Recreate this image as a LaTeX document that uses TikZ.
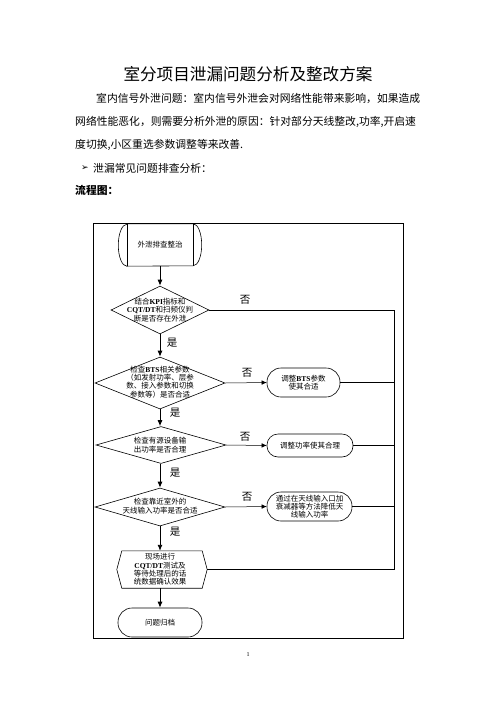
\documentclass[tikz,border=0pt]{standalone}
\usepackage{fontspec}
\setmainfont{Liberation Serif}
\newfontfamily\cjk{Noto Sans CJK SC}
\newfontfamily\dejavu{DejaVu Sans}
\usetikzlibrary{shapes.geometric,arrows.meta}
\newcommand\lb[1]{{\rmfamily\bfseries #1}}
\begin{document}
\begin{tikzpicture}[x=1pt,y=-1pt,
  every node/.style={inner sep=0pt, font=\cjk\fontsize{7.5}{8.3}\selectfont},
  para/.style={anchor=west, font=\cjk\fontsize{10.8}{12}\selectfont},
  flow/.style={-{Latex[length=6pt,width=5pt]}, line width=0.9pt},
  side/.style={-{Latex[length=5pt,width=4.5pt]}, line width=0.5pt},
  back/.style={line width=0.6pt},
  dia/.style n args={2}{diamond, draw, line width=0.6pt, minimum width=#1, minimum height=#2},
  stad/.style n args={3}{draw, line width=0.6pt, rounded corners=#3, minimum width=#1, minimum height=#2, align=center},
  yn/.style={font=\cjk\fontsize{10.5}{11}\selectfont}
]
\useasboundingbox (0,0) rectangle (496,702);

% header text
\node[font=\cjk\fontsize{16.6}{18}\selectfont] (title) at (248,74) {室分项目泄漏问题分析及整改方案};
\node[para] (p1) at (96,98) {室内信号外泄问题：室内信号外泄会对网络性能带来影响，如果造成};
\node[para] (p2) at (75,122) {网络性能恶化，则需要分析外泄的原因：针对部分天线整改,功率,开启速};
\node[para] (p3) at (75,145) {度切换,小区重选参数调整等来改善.};
\node[anchor=west, font=\dejavu\fontsize{9}{10}\selectfont] (bul) at (81,168) {➢};
\node[para] (p4) at (93,168) {泄漏常见问题排查分析：};
\node[para, font=\cjk\bfseries\fontsize{10.8}{12}\selectfont] (p5) at (75,190) {流程图：};

% frame
\draw[line width=0.9pt] (93,223) rectangle (403,638);

% start
\node[minimum width=66pt, minimum height=42pt] (start) at (160,245) {外泄排查整治};
\draw[line width=0.6pt] (start.north west) -- (start.north east)
  arc[start angle=90, end angle=-90, x radius=8.5pt, y radius=21pt]
  -- (start.south west)
  arc[start angle=270, end angle=90, x radius=8.5pt, y radius=21pt] -- cycle;
\draw[line width=0.6pt] (start.north west) -- (start.south west);
\draw[line width=0.6pt] (start.north east) -- (start.south east);

% diamonds
\node[dia={98pt}{48pt}] (d1) at (160,310) {};
\node[align=center] (d1t) at (160,310) {结合\lb{KPI}指标和\\\lb{CQT/DT}和扫频仪判\\断是否存在外泄};
\node[dia={130pt}{52pt}] (d2) at (160,383) {};
\node[align=center] (d2t) at (160,382) {检查\lb{BTS}相关参数\\（如发射功率、层参\\数、接入参数和切换\\参数等）是否合适};
\node[dia={130pt}{37pt}] (d3) at (161,445) {};
\node[align=center] (d3t) at (160,445) {检查有源设备输\\出功率是否合理};
\node[dia={130pt}{38pt}] (d4) at (160,507) {};
\node[align=center] (d4t) at (160,506) {检查靠近室外的\\天线输入功率是否合适};

% right boxes
\node[stad={73pt}{29pt}{14pt}] (b2) at (303.5,382.5) {调整\lb{BTS}参数\\使其合适};
\node[stad={86pt}{23pt}{11pt}] (b3) at (310,445.5) {调整功率使其合理};
\node[stad={85pt}{29pt}{14pt}] (b4) at (309.5,506.5) {通过在天线输入口加\\衰减器等方法降低天\\线输入功率};

% hexagon
\node[minimum width=90pt, minimum height=37pt] (hex) at (162,569.5) {};
\draw[line width=0.6pt] (hex.west) -- ([xshift=5pt]hex.north west) -- ([xshift=-5pt]hex.north east)
  -- (hex.east) -- ([xshift=-5pt]hex.south east) -- ([xshift=5pt]hex.south west) -- cycle;
\node[align=center] (hext) at (160,569.5) {现场进行\\\lb{CQT/DT}测试及\\等待处理后的话\\统数据确认效果};

% end
\node[stad={84pt}{29pt}{14pt}] (end) at (160,622.5) {问题归档};

% flow arrows
\draw[flow] (start.south) -- (d1.north);
\draw[flow] (d1.south) -- (d2.north);
\draw[flow] (d2.south) -- (d2.south |- d3.north);
\draw[flow] (d2.south |- d3.south) -- (d4.north);
\draw[flow] (d4.south) -- (d4.south |- hex.north);
\draw[flow] (end.north |- hex.south) -- (end.north);

% side arrows
\draw[side] (d2.east) -- (b2.west);
\draw[side] (d3.east) -- (b3.west);
\draw[side] (d4.east) -- (b4.west);

% feedback lines
\coordinate (rt) at (394,310);
\coordinate (rb) at (394,569.5);
\draw[back] (d1.east) -- (rt) -- (rb) -- (hex.east);
\draw[back] (b2.east) -- (b2.east -| rt);
\draw[back] (b3.east) -- (b3.east -| rt);
\draw[back] (b4.east) -- (b4.east -| rt);

% labels
\node[yn] (n1) at (245,300) {否};
\node[yn] (n2) at (247,373) {否};
\node[yn] (n3) at (245,437) {否};
\node[yn] (n4) at (247,497) {否};
\node[yn] (y1) at (172,343) {是};
\node[yn] (y2) at (175,413) {是};
\node[yn] (y3) at (175,473) {是};
\node[yn] (y4) at (175,532) {是};

% page number
\node[font=\rmfamily\fontsize{6}{7}\selectfont] (pg) at (248,655) {1};
\end{tikzpicture}
\end{document}
